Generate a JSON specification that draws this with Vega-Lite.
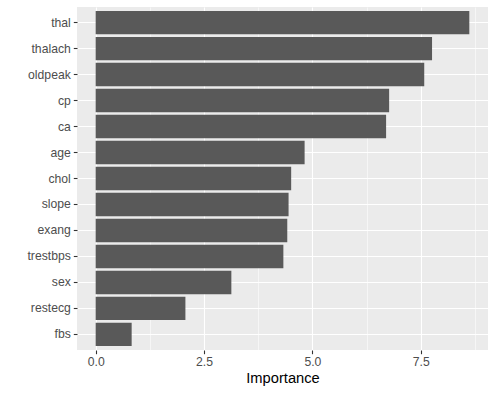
{
  "$schema": "https://vega.github.io/schema/vega-lite/v6.json",
  "width": 411,
  "height": 343,
  "autosize": {"type": "none"},
  "padding": {"left": 77, "top": 7, "right": 8, "bottom": 46},
  "background": "white",
  "config": {
    "view": {"fill": "#EBEBEB", "stroke": null},
    "font": "Liberation Sans",
    "axis": {
      "labelFont": "Liberation Sans",
      "titleFont": "Liberation Sans",
      "labelColor": "#4D4D4D",
      "labelFontSize": 12.2,
      "tickColor": "#333333",
      "tickSize": 3.7,
      "tickWidth": 1.1,
      "domain": false,
      "gridColor": "#FFFFFF",
      "gridWidth": 1.1,
      "gridOpacity": 1
    }
  },
  "data": {
    "values": [
      {"Feature": "thal", "Importance": 8.62},
      {"Feature": "thalach", "Importance": 7.76},
      {"Feature": "oldpeak", "Importance": 7.58},
      {"Feature": "cp", "Importance": 6.77},
      {"Feature": "ca", "Importance": 6.7},
      {"Feature": "age", "Importance": 4.82},
      {"Feature": "chol", "Importance": 4.51},
      {"Feature": "slope", "Importance": 4.45},
      {"Feature": "exang", "Importance": 4.42},
      {"Feature": "trestbps", "Importance": 4.33},
      {"Feature": "sex", "Importance": 3.13},
      {"Feature": "restecg", "Importance": 2.07},
      {"Feature": "fbs", "Importance": 0.83}
    ]
  },
  "encoding": {
    "y": {
      "field": "Feature",
      "type": "nominal",
      "sort": "-x",
      "scale": {"paddingInner": 0.1, "paddingOuter": 0.15},
      "axis": {"title": null, "grid": true, "bandPosition": 0.5, "labelPadding": 3}
    }
  },
  "layer": [
    {
      "mark": {"type": "bar", "opacity": 0},
      "encoding": {
        "x": {
          "field": "Importance",
          "type": "quantitative",
          "scale": {"domain": [-0.431, 9.051], "nice": false, "zero": false},
          "axis": {"orient": "bottom", "values": [1.25, 3.75, 6.25, 8.75], "labels": false, "ticks": false, "title": null, "grid": true, "gridWidth": 0.55}
        }
      }
    },
    {
      "mark": {"type": "bar", "color": "#595959"},
      "encoding": {
        "x": {
          "field": "Importance",
          "type": "quantitative",
          "scale": {"domain": [-0.431, 9.051], "nice": false, "zero": false},
          "axis": {
            "orient": "bottom",
            "values": [0, 2.5, 5, 7.5],
            "format": ".1f",
            "title": "Importance",
            "titleFontSize": 14.7,
            "titleFontWeight": "normal",
            "titleColor": "#000000",
            "titlePadding": 3,
            "labelPadding": 2,
            "grid": true
          }
        }
      }
    }
  ],
  "resolve": {"axis": {"x": "independent"}}
}
